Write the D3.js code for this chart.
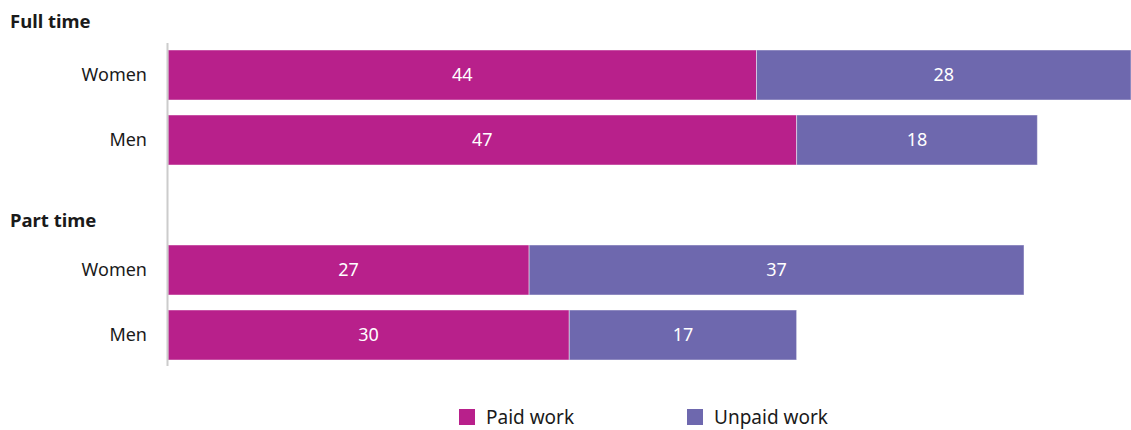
<!DOCTYPE html>
<html>
<head>
<meta charset="utf-8">
<script src="https://cdn.jsdelivr.net/npm/d3@7"></script>
<style>
  html, body { margin: 0; padding: 0; background: #fff; }
  svg text { font-family: "Source Sans Pro", "Noto Sans", sans-serif; }
</style>
</head>
<body>
<svg id="chart" width="1131" height="430"></svg>
<script>
// Weekly hours by employment type and sex
const groups = ["Full time", "Part time"];
const rowGroup = ["Full time", "Full time", "Part time", "Part time"];
const rowLabels = ["Women", "Men", "Women", "Men"];
const paidWork = [44, 47, 27, 30];
const unpaidWork = [28, 18, 37, 17];
const seriesNames = ["Paid work", "Unpaid work"];
const seriesColors = ["#B8208B", "#6E68AE"];

const svg = d3.select("#chart");
const W = 1131;

// Row slots: a blank slot separates the two groups
const slots = ["Full time|0", "Full time|1", "gap", "Part time|2", "Part time|3"];
const y = d3.scaleBand().domain(slots).range([42.5, 367.5]).paddingInner(15 / 65).paddingOuter(0.5 * 15 / 65);
const x = d3.scaleLinear().domain([0, 72]).range([168, W]);

const rows = rowLabels.map((lab, i) => ({
  key: rowGroup[i] + "|" + i, label: lab,
  segs: [
    { s: 0, x0: 0, x1: paidWork[i], v: paidWork[i] },
    { s: 1, x0: paidWork[i], x1: paidWork[i] + unpaidWork[i], v: unpaidWork[i] }
  ]
}));

// Group headings
const headY = { "Full time": 28, "Part time": 227 };
svg.selectAll("text.group").data(groups).join("text")
  .attr("class", "group")
  .attr("x", 10).attr("y", d => headY[d])
  .attr("font-size", 18.5).attr("font-weight", 700).attr("fill", "#1a1a1a")
  .text(d => d);

// Bars
const rowG = svg.selectAll("g.row").data(rows).join("g")
  .attr("class", "row")
  .attr("transform", d => `translate(0,${y(d.key)})`);

rowG.selectAll("rect").data(d => d.segs).join("rect")
  .attr("x", d => x(d.x0))
  .attr("y", 0)
  .attr("width", d => x(d.x1) - x(d.x0))
  .attr("height", y.bandwidth())
  .attr("fill", d => seriesColors[d.s])
  .attr("stroke", "rgba(255,255,255,0.45)")
  .attr("stroke-width", 1);

rowG.selectAll("text.val").data(d => d.segs).join("text")
  .attr("class", "val")
  .attr("x", d => (x(d.x0) + x(d.x1)) / 2)
  .attr("y", y.bandwidth() / 2)
  .attr("dy", "0.35em")
  .attr("text-anchor", "middle")
  .attr("font-size", 18)
  .attr("fill", "#fff")
  .text(d => d.v);

// Row labels
rowG.append("text")
  .attr("x", 147).attr("y", y.bandwidth() / 2).attr("dy", "0.35em")
  .attr("text-anchor", "end")
  .attr("font-size", 18).attr("fill", "#1a1a1a")
  .text(d => d.label);

// Vertical baseline
svg.append("line")
  .attr("x1", x(0) - 0.5).attr("x2", x(0) - 0.5)
  .attr("y1", 43).attr("y2", 366)
  .attr("stroke", "#cccccc").attr("stroke-width", 2);

// Legend
const legX = [459, 687];
const leg = svg.selectAll("g.leg").data(seriesNames).join("g")
  .attr("class", "leg")
  .attr("transform", (d, i) => `translate(${legX[i]},409)`);
leg.append("rect").attr("width", 16).attr("height", 16).attr("fill", (d, i) => seriesColors[i]);
leg.append("text").attr("x", 27).attr("y", 8).attr("dy", "0.35em")
  .attr("font-size", 19).attr("fill", "#1a1a1a").text(d => d);
</script>
</body>
</html>
